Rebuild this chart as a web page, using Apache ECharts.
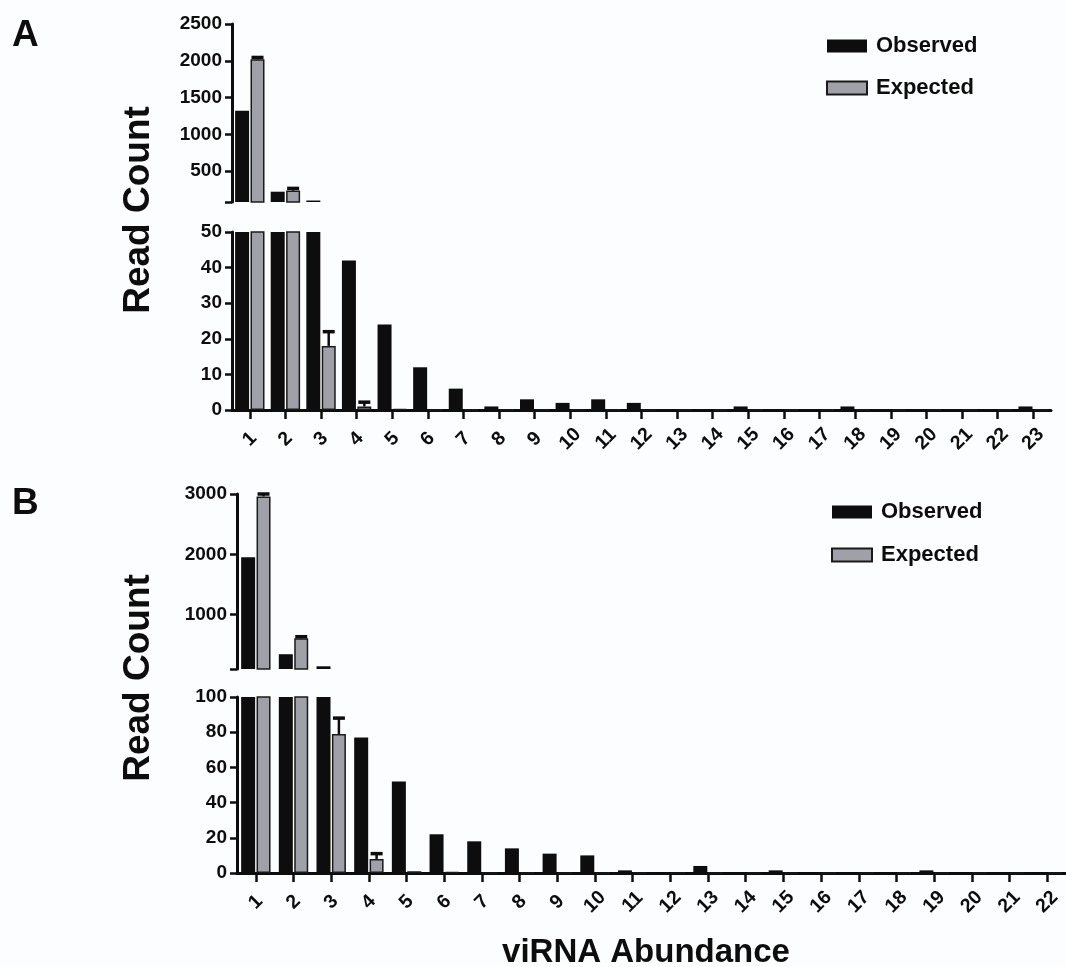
<!DOCTYPE html>
<html>
<head>
<meta charset="utf-8">
<script src="https://cdn.jsdelivr.net/npm/echarts@6/dist/echarts.min.js"></script>
<style>
html,body{margin:0;padding:0;background:#fcfdfe;}
#c{width:1066px;height:967px;}
</style>
</head>
<body>
<div id="c"></div>
<script>
// ---------- DATA ----------
const catsA = ['1','2','3','4','5','6','7','8','9','10','11','12','13','14','15','16','17','18','19','20','21','22','23'];
const observedA = [1320, 220, 100, 42, 24, 12, 6, 1, 3, 2, 3, 2, 0, 0, 1, 0, 0, 1, 0, 0, 0, 0, 1];
const expectedA = [2020, 235, 18, 1, 0.3, 0, 0, 0, 0, 0, 0, 0, 0, 0, 0, 0, 0, 0, 0, 0, 0, 0, 0];
const errorA    = [25, 30, 4, 1.2, 0, 0, 0, 0, 0, 0, 0, 0, 0, 0, 0, 0, 0, 0, 0, 0, 0, 0, 0];
const upperTicksA = [500, 1000, 1500, 2000, 2500];

const catsB = ['1','2','3','4','5','6','7','8','9','10','11','12','13','14','15','16','17','18','19','20','21','22'];
const observedB = [1950, 345, 145, 77, 52, 22, 18, 14, 11, 10, 1.5, 0.5, 4, 0, 1.5, 0.5, 0.5, 0.5, 1.5, 0.5, 0, 0.5];
const expectedB = [2960, 610, 79, 8, 1, 0.5, 0, 0, 0, 0, 0, 0, 0, 0, 0, 0, 0, 0, 0, 0, 0, 0];
const errorB    = [40, 25, 9, 3, 0, 0, 0, 0, 0, 0, 0, 0, 0, 0, 0, 0, 0, 0, 0, 0, 0, 0];
const upperTicksB = [1000, 2000, 3000];

// ---------- STYLE ----------
const FONT = '"Liberation Sans", Arial, Helvetica, sans-serif';
const INK = '#0d0d0d';
const GRAY = '#a0a1a8';
const BAR_W = 14;
const GAP = 0.1;
const EXP_OFFSET = (BAR_W + BAR_W * GAP) / 2;

// axis ranges (break segments)
const A_UP = [80, 2500], A_LO = [0, 50];
const B_UP = [100, 3000], B_LO = [0, 100];

function xAxisDef(gridIndex, cats, show) {
  return {
    type: 'category', gridIndex, data: cats,
    axisLine: { show, lineStyle: { color: INK, width: 3 } },
    axisTick: { show, alignWithLabel: true, length: 9, lineStyle: { color: INK, width: 2.5 } },
    axisLabel: {
      show, rotate: 45, align: 'center', verticalAlign: 'middle', margin: 29,
      fontFamily: FONT, fontWeight: 'bold', fontSize: 19.5, color: INK, interval: 0
    },
    splitLine: { show: false }
  };
}
function yAxisDef(gridIndex, range, opts) {
  const ax = {
    type: 'value', gridIndex, min: range[0], max: range[1],
    axisLine: { show: true, lineStyle: { color: INK, width: 3 } },
    axisTick: { show: true, length: 7, lineStyle: { color: INK, width: 2.5 } },
    axisLabel: {
      fontFamily: FONT, fontWeight: 'bold', fontSize: 19, color: INK, margin: 10,
      formatter: v => String(v)
    },
    splitLine: { show: false }
  };
  if (opts.labels) {
    ax.axisLabel.customValues = opts.labels;
    ax.axisTick.customValues = [range[0]].concat(opts.labels);
  } else {
    ax.interval = opts.interval;
  }
  return ax;
}
function barPair(xi, yi, obs, exp) {
  return [
    { name: 'Observed', type: 'bar', xAxisIndex: xi, yAxisIndex: yi, data: obs,
      barWidth: BAR_W, barGap: (GAP * 100) + '%', clip: true,
      itemStyle: { color: INK }, silent: true },
    { name: 'Expected', type: 'bar', xAxisIndex: xi, yAxisIndex: yi, data: exp,
      barWidth: BAR_W, barGap: (GAP * 100) + '%', clip: true,
      itemStyle: { color: GRAY, borderColor: '#1a1a1a', borderWidth: 1.5 }, silent: true }
  ];
}
function errSeries(id, xi, yi, vals, errs, range) {
  const data = [];
  vals.forEach((v, i) => {
    if (errs[i] > 0 && v >= range[0] && v + errs[i] <= range[1]) data.push([i, v, errs[i]]);
  });
  return {
    type: 'custom', name: id, xAxisIndex: xi, yAxisIndex: yi, z: 5, silent: true,
    renderItem(params, api) {
      const i = api.value(0), v = api.value(1), e = api.value(2);
      const p0 = api.coord([i, v]);
      const p1 = api.coord([i, v + e]);
      const x = p0[0] + EXP_OFFSET;
      return {
        type: 'group', children: [
          { type: 'line', shape: { x1: x, y1: p0[1], x2: x, y2: p1[1] }, style: { stroke: INK, lineWidth: 2.5 } },
          { type: 'line', shape: { x1: x - 6, y1: p1[1], x2: x + 6, y2: p1[1] }, style: { stroke: INK, lineWidth: 3.5 } }
        ]
      };
    },
    data
  };
}
function legendDef(left, top, gap) {
  return {
    data: ['Observed', 'Expected'], orient: 'vertical', left, top, padding: 0,
    itemGap: gap, itemWidth: 40, itemHeight: 13, icon: 'rect', selectedMode: false,
    textStyle: { fontFamily: FONT, fontWeight: 'bold', fontSize: 22, color: INK, padding: [0, 0, 0, 4] }
  };
}

const chart = echarts.init(document.getElementById('c'), null, { renderer: 'canvas' });
chart.setOption({
  backgroundColor: '#fcfdfe',
  animation: false,
  grid: [
    { left: 232, top: 24, width: 819, height: 178 },
    { left: 232, top: 232, width: 819, height: 178 },
    { left: 237, top: 494, width: 833, height: 175 },
    { left: 237, top: 697, width: 833, height: 176 }
  ],
  xAxis: [
    xAxisDef(0, catsA, false),
    xAxisDef(1, catsA, true),
    xAxisDef(2, catsB, false),
    xAxisDef(3, catsB, true)
  ],
  yAxis: [
    yAxisDef(0, A_UP, { labels: upperTicksA }),
    yAxisDef(1, A_LO, { interval: 10 }),
    yAxisDef(2, B_UP, { labels: upperTicksB }),
    yAxisDef(3, B_LO, { interval: 20 })
  ],
  legend: [legendDef(826, 35, 20), legendDef(831, 501, 21)],
  series: [
    ...barPair(0, 0, observedA, expectedA),
    ...barPair(1, 1, observedA, expectedA),
    ...barPair(2, 2, observedB, expectedB),
    ...barPair(3, 3, observedB, expectedB),
    errSeries('errA_up', 0, 0, expectedA, errorA, A_UP),
    errSeries('errA_lo', 1, 1, expectedA, errorA, A_LO),
    errSeries('errB_up', 2, 2, expectedB, errorB, B_UP),
    errSeries('errB_lo', 3, 3, expectedB, errorB, B_LO)
  ],
  graphic: [
    { type: 'text', x: 12, y: 36, style: { text: 'A', font: 'bold 37px ' + FONT, fill: INK, textVerticalAlign: 'middle' } },
    { type: 'text', x: 12, y: 504, style: { text: 'B', font: 'bold 37px ' + FONT, fill: INK, textVerticalAlign: 'middle' } },
    { type: 'text', x: 139, y: 210, rotation: Math.PI / 2, style: { text: 'Read Count', font: 'bold 37px ' + FONT, fill: INK, textAlign: 'center', textVerticalAlign: 'middle' } },
    { type: 'text', x: 139, y: 678, rotation: Math.PI / 2, style: { text: 'Read Count', font: 'bold 37px ' + FONT, fill: INK, textAlign: 'center', textVerticalAlign: 'middle' } },
    { type: 'text', x: 646, y: 953, style: { text: 'viRNA Abundance', font: 'bold 33px ' + FONT, fill: INK, textAlign: 'center', textVerticalAlign: 'middle' } }
  ]
});
</script>
</body>
</html>
